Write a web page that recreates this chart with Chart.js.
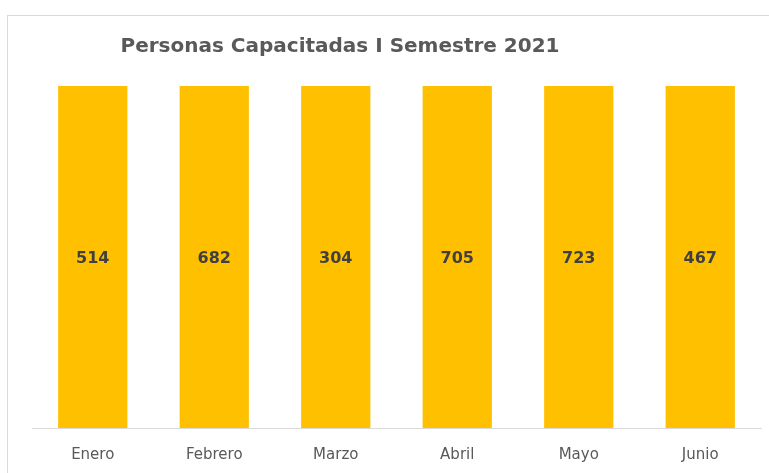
<!DOCTYPE html>
<html lang="es">
<head>
    <meta charset="UTF-8">
    <title>Personas Capacitadas I Semestre 2021</title>
    <script src="https://cdn.jsdelivr.net/npm/chart.js"></script>
    <style>
        html, body { margin: 0; padding: 0; background: #fff; }
        #wrap { position: relative; width: 769px; height: 473px; overflow: hidden; }
        #frame { position: absolute; left: 7px; top: 15px; width: 800px; height: 500px; border: 1px solid #d9d9d9; box-sizing: border-box; }
        #chart { position: absolute; left: 0; top: 0; }
    </style>
</head>
<body>
<div id="wrap">
    <div id="frame"></div>
    <canvas id="chart" width="769" height="491"></canvas>
</div>
<script>
    const titulo = 'Personas Capacitadas I Semestre 2021';
    const meses = ['Enero', 'Febrero', 'Marzo', 'Abril', 'Mayo', 'Junio'];
    const personas = [514, 682, 304, 705, 723, 467];

    // columna 100% apilada (una sola serie): cada mes llena su total
    const porcentaje = personas.map(v => v / v * 100);

    const fuente = '"DejaVu Sans", sans-serif';

    // etiqueta con el valor real en el centro de cada columna
    const etiquetas = {
        id: 'etiquetas',
        afterDatasetsDraw(chart) {
            const ctx = chart.ctx;
            const meta = chart.getDatasetMeta(0);
            ctx.save();
            ctx.font = 'bold 16px ' + fuente;
            ctx.fillStyle = '#404040';
            ctx.textAlign = 'center';
            ctx.textBaseline = 'middle';
            meta.data.forEach((bar, i) => {
                ctx.fillText(personas[i], bar.x, (bar.y + bar.base) / 2 + 2);
            });
            ctx.restore();
        }
    };

    // titulo dibujado a la izquierda del centro, como en el original
    const tituloPlugin = {
        id: 'tituloPlugin',
        afterDraw(chart) {
            const ctx = chart.ctx;
            ctx.save();
            ctx.font = 'bold 20px ' + fuente;
            ctx.fillStyle = '#595959';
            ctx.textAlign = 'center';
            ctx.textBaseline = 'middle';
            ctx.fillText(titulo, 340, 47);
            ctx.restore();
        }
    };

    const ctx = document.getElementById('chart').getContext('2d');
    new Chart(ctx, {
        type: 'bar',
        data: {
            labels: meses,
            datasets: [{
                label: 'Personas',
                data: porcentaje,
                backgroundColor: '#ffc000',
                borderWidth: 0,
                categoryPercentage: 0.57,
                barPercentage: 1
            }]
        },
        options: {
            responsive: false,
            animation: false,
            layout: { padding: { left: 32, right: 8, top: 86, bottom: 9 } },
            plugins: {
                legend: { display: false },
                tooltip: { enabled: false },
                title: { display: false }
            },
            scales: {
                x: {
                    stacked: true,
                    grid: { display: false, drawTicks: false },
                    border: { display: true, color: '#d9d9d9', width: 1 },
                    ticks: {
                        padding: 18,
                        color: '#595959',
                        font: { family: fuente, size: 15 }
                    }
                },
                y: {
                    stacked: true,
                    display: false,
                    min: 0,
                    max: 100
                }
            }
        },
        plugins: [etiquetas, tituloPlugin]
    });
</script>
</body>
</html>
